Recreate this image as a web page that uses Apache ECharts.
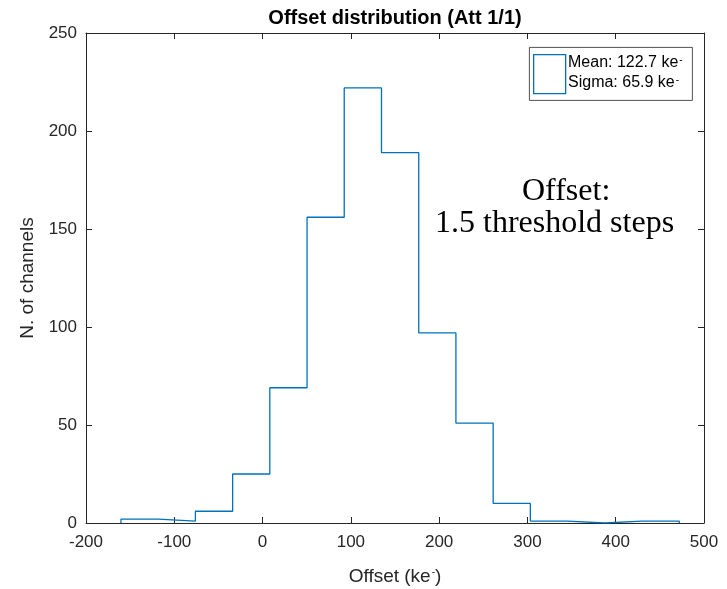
<!DOCTYPE html>
<html>
<head>
<meta charset="utf-8">
<script src="https://cdn.jsdelivr.net/npm/echarts@6/dist/echarts.min.js"></script>
<style>
  html, body { margin: 0; padding: 0; background: #fff; }
  #chart { width: 727px; height: 589px; }
</style>
</head>
<body>
<div id="chart"></div>
<script>
  // bin edges (ke-) and channel counts per bin
  const binEdges = [-160.4, -118.2, -76.1, -33.9, 8.2, 50.4, 92.5, 134.7, 176.9, 219.0, 261.2, 303.3, 345.5, 387.7, 429.8, 472.0]
  const counts = [2, 1, 6, 25, 69, 156, 222, 189, 97, 51, 10, 1, 0, 1, 1]
  const xTicks = [-200, 500, 100]   // min, max, step
  const yTicks = [0, 250, 50]
  const legendLines = ['Mean: 122.7 ke', 'Sigma: 65.9 ke']
  const noteLines = ['Offset:', '1.5 threshold steps']

  const axisColor = '#262626'
  const lineColor = '#0072BD'
  const sans = 'Liberation Sans, Arial, sans-serif'

  // stairs outline: start and end at zero
  const stairs = [[binEdges[0], 0]]
  counts.forEach((c, i) => stairs.push([binEdges[i], c]))
  stairs.push([binEdges[binEdges.length - 1], counts[counts.length - 1]])
  stairs.push([binEdges[binEdges.length - 1], 0])

  const chart = echarts.init(document.getElementById('chart'), null, { renderer: 'canvas' })

  const baseAxis = {
    axisLine: { show: true, onZero: false, lineStyle: { color: axisColor, width: 1 } },
    axisTick: { show: true, inside: true, length: 6, lineStyle: { color: axisColor } },
    splitLine: { show: false }
  }
  const supRich = {
    sup: { fontSize: 10, verticalAlign: 'top', color: axisColor, fontFamily: sans, padding: [0, 0, 6, 1] }
  }

  const option = {
    animation: false,
    backgroundColor: '#fff',
    title: {
      text: 'Offset distribution (Att 1/1)',
      left: 395,
      textAlign: 'center',
      top: 8,
      padding: 0,
      textStyle: { fontFamily: sans, fontWeight: 'bold', fontSize: 20, color: '#000' }
    },
    grid: { left: 86, right: 23, top: 33, bottom: 66, containLabel: false, outerBoundsMode: 'none' },
    xAxis: [
      Object.assign({}, baseAxis, {
        type: 'value', position: 'bottom',
        min: xTicks[0], max: xTicks[1], interval: xTicks[2],
        axisLabel: { fontFamily: sans, fontSize: 17, color: axisColor, margin: 11 },
        name: 'Offset (ke{sup|-})',
        nameLocation: 'middle',
        nameGap: 44,
        nameTextStyle: { fontFamily: sans, fontSize: 19, color: axisColor, rich: supRich }
      }),
      Object.assign({}, baseAxis, {
        type: 'value', position: 'top',
        min: xTicks[0], max: xTicks[1], interval: xTicks[2],
        axisLabel: { show: false }
      })
    ],
    yAxis: [
      Object.assign({}, baseAxis, {
        type: 'value', position: 'left',
        min: yTicks[0], max: yTicks[1], interval: yTicks[2],
        axisLabel: { fontFamily: sans, fontSize: 17, color: axisColor, margin: 9 },
        name: 'N. of channels',
        nameLocation: 'middle',
        nameGap: 43,
        nameTextStyle: { fontFamily: sans, fontSize: 19, color: axisColor }
      }),
      Object.assign({}, baseAxis, {
        type: 'value', position: 'right',
        min: yTicks[0], max: yTicks[1], interval: yTicks[2],
        axisLabel: { show: false }
      })
    ],
    series: [
      {
        type: 'line',
        step: 'end',
        data: stairs,
        symbol: 'none',
        lineStyle: { color: lineColor, width: 1.3 },
        xAxisIndex: 0,
        yAxisIndex: 0
      }
    ],
    graphic: [
      // legend box
      {
        type: 'rect', left: 529, top: 47, z: 10,
        shape: { width: 163, height: 53 },
        style: { fill: '#fff', stroke: axisColor, lineWidth: 0.8 }
      },
      {
        type: 'rect', left: 533, top: 54, z: 11,
        shape: { width: 32, height: 39 },
        style: { fill: '#fff', stroke: lineColor, lineWidth: 1.3 }
      },
      {
        type: 'text', x: 568, y: 63, z: 11,
        style: {
          text: legendLines[0] + '{sup|-}', verticalAlign: 'middle',
          fontFamily: sans, fontSize: 16, fill: '#000',
          rich: { sup: { fontSize: 10, verticalAlign: 'top', padding: [0, 0, 6, 1] } }
        }
      },
      {
        type: 'text', x: 568, y: 83, z: 11,
        style: {
          text: legendLines[1] + '{sup|-}', verticalAlign: 'middle',
          fontFamily: sans, fontSize: 16, fill: '#000',
          rich: { sup: { fontSize: 10, verticalAlign: 'top', padding: [0, 0, 6, 1] } }
        }
      },
      // annotation
      {
        type: 'text', x: 522, y: 192, z: 11,
        style: { text: noteLines[0], verticalAlign: 'middle', fontFamily: 'Liberation Serif, Times New Roman, serif', fontSize: 32, fill: '#000' }
      },
      {
        type: 'text', x: 435, y: 224, z: 11,
        style: { text: noteLines[1], verticalAlign: 'middle', fontFamily: 'Liberation Serif, Times New Roman, serif', fontSize: 32, fill: '#000' }
      }
    ]
  }

  chart.setOption(option)
</script>
</body>
</html>
